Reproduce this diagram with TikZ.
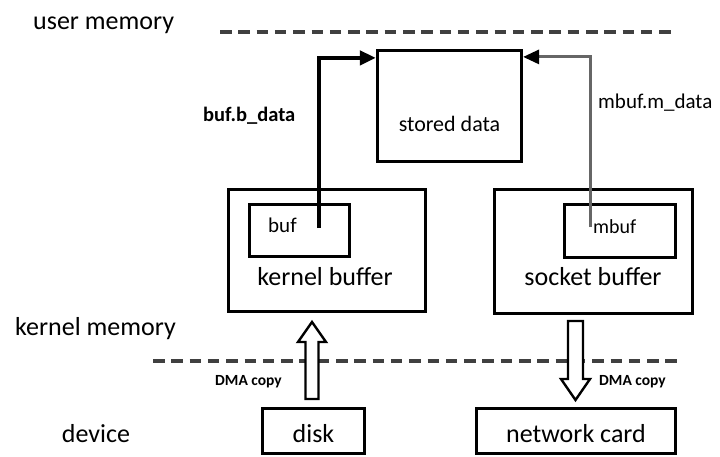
\documentclass[tikz,border=0pt]{standalone}
\usepackage{fontspec}
\setmainfont{Carlito}
\usetikzlibrary{arrows.meta,calc}
\definecolor{dashgray}{HTML}{404040}
\definecolor{linegray}{HTML}{666666}
\begin{document}
\begin{tikzpicture}[x=1pt,y=-1pt,
  box/.style={draw=black,line width=3.2pt,inner sep=0pt,fill=none},
  big/.style={inner sep=0pt,font=\fontsize{26}{30}\selectfont},
  mid/.style={inner sep=0pt,font=\fontsize{21}{25}\selectfont},
  small/.style={inner sep=0pt,font=\fontsize{15.5}{18}\selectfont\bfseries},
  level/.style={dashgray,line width=4pt,dash pattern=on 11.5pt off 6.8pt},
  ptr/.style={line width=4pt,-{Triangle[length=16pt,width=14pt]}},
  gptr/.style={linegray,line width=3pt,-{Triangle[length=16pt,width=14pt,color=black]}},
  blk/.style={draw=black,fill=white,line width=2.4pt,line join=miter}
]
\useasboundingbox (0,0) rectangle (720,456);

% level lines
\coordinate (u1) at (220,32);
\coordinate (u2) at (673,32);
\coordinate (k1) at (153,361);
\coordinate (k2) at (680,361);
\draw[level] (u1) -- (u2);
\draw[level] (k1) -- (k2);

% level labels
\node[big,anchor=base west] (umem) at (33,29) {user memory};
\node[big,anchor=base west] (kmem) at (15,335) {kernel memory};
\node[big,anchor=base] (dev) at (96,442) {device};

% boxes
\node[box,minimum width=144,minimum height=111] (stored) at (449.5,106) {};
\node[box,minimum width=197,minimum height=122] (kb) at (327,250.5) {};
\node[box,minimum width=100,minimum height=52] (buf) at (299.5,230.5) {};
\node[box,minimum width=198,minimum height=124] (sb) at (593.5,251.5) {};
\node[box,minimum width=111,minimum height=53] (mbuf) at (620,231) {};
\node[box,minimum width=102,minimum height=45] (disk) at (313.5,431) {};
\node[box,minimum width=199,minimum height=45] (nc) at (576,431) {};

% box texts
\node[mid,anchor=base,font=\fontsize{22}{26}\selectfont] (storedt) at (449.5,131) {stored data};
\node[big,anchor=base] (kbt) at (325,285) {kernel buffer};
\node[big,anchor=base] (sbt) at (593,285) {socket buffer};
\node[mid,anchor=base west] (buft) at (268,232) {buf};
\node[mid,anchor=base west,font=\fontsize{20}{24}\selectfont] (mbuft) at (593,233) {mbuf};
\node[big,anchor=base] (diskt) at (313.5,442) {disk};
\node[big,anchor=base] (nct) at (576,442) {network card};

% pointer connectors
\coordinate (bs) at (319,228);
\coordinate (ms) at (590,227);
\draw[ptr] (bs) |- ($(stored.north west)+(0,9)$);
\draw[gptr] (ms) |- ($(stored.north east)+(0,8)$);
\node[mid,anchor=base west,font=\fontsize{20.5}{25}\selectfont\bfseries] (bl) at (203,121) {buf.b\_data};
\node[mid,anchor=base west] (ml) at (598,108) {mbuf.m\_data};

% DMA block arrows
\draw[blk] (305.5,399) -- (305.5,342) -- (298,342) -- (312,322) -- (326,342) -- (318.5,342) -- (318.5,399) -- cycle;
\draw[blk] (568,321) -- (568,379) -- (561,379) -- (575.5,400) -- (590,379) -- (583,379) -- (583,321) -- cycle;
\node[small,anchor=base west] (dma1) at (215,385) {DMA copy};
\node[small,anchor=base west] (dma2) at (599,385) {DMA copy};
\end{tikzpicture}
\end{document}
